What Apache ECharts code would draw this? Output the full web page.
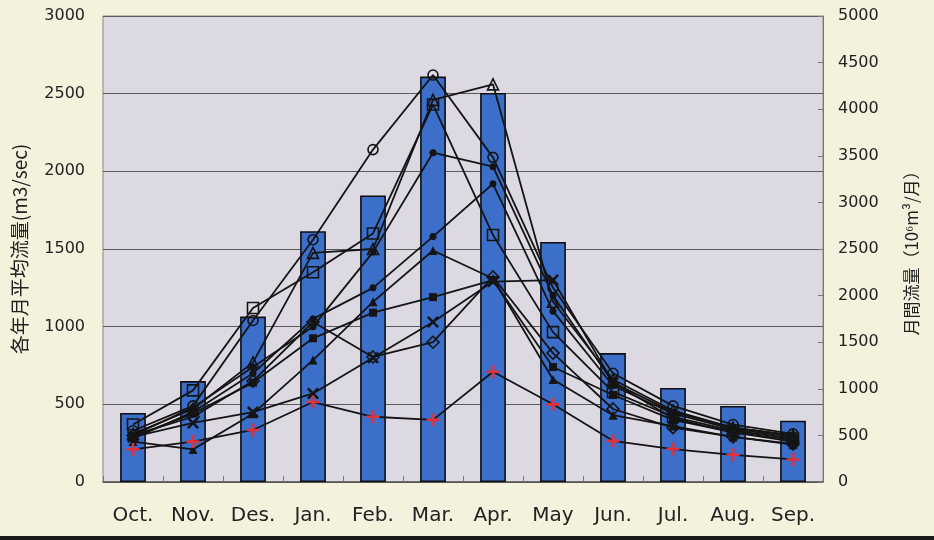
<!DOCTYPE html>
<html>
<head>
<meta charset="utf-8">
<script src="https://cdn.jsdelivr.net/npm/echarts@6/dist/echarts.min.js"></script>
<style>
  html, body { margin: 0; padding: 0; background: #f4f1dd; }
  #chart { width: 934px; height: 540px; }
</style>
</head>
<body>
<div id="chart"></div>
<script>
// months and monthly average flow (bars, m3/sec)
const months = ['Oct.', 'Nov.', 'Des.', 'Jan.', 'Feb.', 'Mar.', 'Apr.', 'May', 'Jun.', 'Jul.', 'Aug.', 'Sep.']
const monthlyMean = [445, 650, 1065, 1615, 1845, 2610, 2505, 1545, 830, 605, 490, 395]

// each year's monthly mean flow (lines)
const openCircle = [330, 490, 1040, 1560, 2140, 2620, 2090, 1250, 700, 490, 370, 310]
const openTriangle = [310, 470, 770, 1475, 1500, 2460, 2560, 1160, 660, 460, 350, 300]
const openSquare = [370, 590, 1120, 1350, 1600, 2430, 1590, 965, 580, 420, 330, 280]
const filledDot = [300, 480, 740, 1000, 1480, 2120, 2030, 1200, 640, 450, 350, 300]
const filledDot2 = [280, 450, 700, 1050, 1250, 1580, 1920, 1100, 620, 440, 340, 290]
const openDiamond = [300, 420, 650, 1030, 805, 900, 1320, 830, 470, 350, 290, 245]
const crossMark = [290, 380, 450, 570, 800, 1030, 1290, 1300, 640, 410, 320, 260]
const filledSquare = [290, 440, 640, 925, 1090, 1190, 1300, 740, 560, 400, 320, 270]
const filledTriangle = [260, 210, 440, 785, 1160, 1490, 1310, 660, 430, 360, 290, 240]
const redPlus = [210, 260, 335, 515, 420, 400, 710, 500, 265, 212, 175, 145]

// axis ticks
const leftTicks = { min: 0, max: 3000, interval: 500 }
const rightTicks = { min: 0, max: 5000, interval: 500 }

const X_PATH = 'path://M0,1.5 L1.5,0 L5,3.5 L8.5,0 L10,1.5 L6.5,5 L10,8.5 L8.5,10 L5,6.5 L1.5,10 L0,8.5 L3.5,5 Z'
const PLUS_PATH = 'path://M4,0 H6 V4 H10 V6 H6 V10 H4 V6 H0 V4 H4 Z'

function lineSeries(data, symbol, hollow, size, color) {
  return {
    type: 'line',
    data: data,
    symbol: symbol,
    symbolSize: size || 9,
    z: 3,
    lineStyle: { color: '#141414', width: 1.8 },
    itemStyle: hollow
      ? { color: 'rgba(0,0,0,0)', borderColor: '#141414', borderWidth: 1.6 }
      : { color: color || '#141414', borderWidth: 0 }
  }
}

const chart = echarts.init(document.getElementById('chart'))
chart.setOption({
  animation: false,
  backgroundColor: '#f4f1dd',
  textStyle: { fontFamily: 'DejaVu Sans', color: '#222' },
  grid: {
    left: 103,
    right: 111,
    top: 16,
    bottom: 58,
    show: true,
    backgroundColor: '#ddd9e3',
    borderColor: '#8a8a8a',
    borderWidth: 1
  },
  graphic: [
    {
      type: 'rect',
      left: 0,
      bottom: 0,
      shape: { width: 934, height: 4 },
      style: { fill: '#1a1a1a' }
    }
  ],
  xAxis: {
    type: 'category',
    data: months,
    axisLine: { lineStyle: { color: '#555', width: 1.5 } },
    axisTick: { show: true, inside: true, length: 6, lineStyle: { color: '#777' } },
    axisLabel: { fontSize: 20, color: '#222', margin: 24, fontFamily: 'DejaVu Sans' }
  },
  yAxis: [
    {
      type: 'value',
      min: leftTicks.min,
      max: leftTicks.max,
      interval: leftTicks.interval,
      name: '各年月平均流量(m3/sec)',
      nameLocation: 'middle',
      nameRotate: 90,
      nameGap: 74,
      nameTextStyle: { fontSize: 19, fontFamily: 'Noto Sans CJK JP', color: '#222' },
      axisLine: { show: false },
      axisTick: { show: false },
      axisLabel: { fontSize: 16, color: '#222', margin: 18, formatter: v => String(v) },
      splitLine: { lineStyle: { color: '#5a5a5a', width: 1 } }
    },
    {
      type: 'value',
      position: 'right',
      min: rightTicks.min,
      max: rightTicks.max,
      interval: rightTicks.interval,
      name: '月間流量（10⁶m³/月）',
      nameLocation: 'middle',
      nameRotate: 90,
      nameGap: 80,
      nameTextStyle: { fontSize: 17, fontFamily: 'Noto Sans CJK JP', color: '#222' },
      axisLine: { show: true, lineStyle: { color: '#777' } },
      axisTick: { show: true, inside: true, length: 5, lineStyle: { color: '#777' } },
      axisLabel: { fontSize: 16, color: '#222', margin: 15, formatter: v => String(v) },
      splitLine: { show: false }
    }
  ],
  series: [
    {
      type: 'bar',
      data: monthlyMean,
      barWidth: '43%',
      z: 2,
      itemStyle: { color: '#3b6fca', borderColor: '#101010', borderWidth: 1.6 }
    },
    lineSeries(openCircle, 'circle', true, 10),
    lineSeries(openTriangle, 'triangle', true, 11),
    lineSeries(openSquare, 'rect', true, 11),
    lineSeries(filledDot, 'circle', false, 7),
    lineSeries(filledDot2, 'circle', false, 7),
    lineSeries(openDiamond, 'diamond', true, 12),
    lineSeries(crossMark, X_PATH, false, 12),
    lineSeries(filledSquare, 'rect', false, 8),
    lineSeries(filledTriangle, 'triangle', false, 9),
    lineSeries(redPlus, PLUS_PATH, false, 13, '#e0303a')
  ]
})
</script>
</body>
</html>
